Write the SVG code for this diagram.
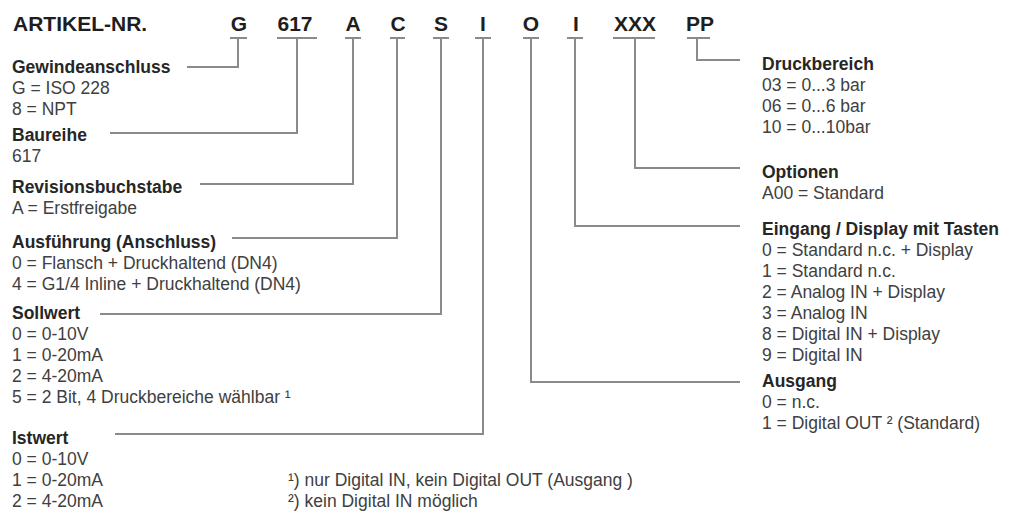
<svg xmlns="http://www.w3.org/2000/svg" width="1010" height="511" viewBox="0 0 1010 511">
<style>
text{font-family:"Liberation Sans",Arial,Helvetica,sans-serif;}
.hd{font-size:21px;font-weight:bold;fill:#1e1e1e;}
.code{font-size:21px;font-weight:bold;fill:#1e1e1e;text-anchor:middle;}
.t{font-size:17.5px;font-weight:bold;fill:#262626;}
.v{font-size:17.5px;fill:#404040;}
.ln{fill:none;stroke:#8a8a8a;stroke-width:2;}
</style>
<rect width="1010" height="511" fill="#ffffff"/>
<g id="header">
<text class="hd" x="13" y="31">ARTIKEL-NR.</text>
<text class="code" x="239" y="31">G</text>
<text class="code" x="295" y="31">617</text>
<text class="code" x="353" y="31">A</text>
<text class="code" x="398" y="31">C</text>
<text class="code" x="441" y="31">S</text>
<text class="code" x="483" y="31">I</text>
<text class="code" x="531" y="31">O</text>
<text class="code" x="576" y="31">I</text>
<text class="code" x="635" y="31">XXX</text>
<text class="code" x="700" y="31">PP</text>
</g>
<g id="connectors">
<path class="ln" d="M230 38H247M238 38V67H187"/>
<path class="ln" d="M277 38H317M297 38V133H110"/>
<path class="ln" d="M345 38H361M353 38V184H200"/>
<path class="ln" d="M390 38H405M397 38V238H232"/>
<path class="ln" d="M433 38H449M441 38V314H100"/>
<path class="ln" d="M475 38H491M483 38V434H115"/>
<path class="ln" d="M523 38H539M531 38V382H740"/>
<path class="ln" d="M567 38H583M575 38V226H740"/>
<path class="ln" d="M613 38H655M635 38V168H740"/>
<path class="ln" d="M687 38H710M697 38V60H740"/>
</g>
<g id="gewindeanschluss">
<text class="t" x="12" y="73">Gewindeanschluss</text>
<text class="v" x="12" y="94">G = ISO 228</text>
<text class="v" x="12" y="115">8 = NPT</text>
</g>
<g id="baureihe">
<text class="t" x="12" y="141">Baureihe</text>
<text class="v" x="12" y="162">617</text>
</g>
<g id="revisionsbuchstabe">
<text class="t" x="12" y="193">Revisionsbuchstabe</text>
<text class="v" x="12" y="214">A = Erstfreigabe</text>
</g>
<g id="ausfuehrung">
<text class="t" x="12" y="248">Ausführung (Anschluss)</text>
<text class="v" x="12" y="269">0 = Flansch + Druckhaltend (DN4)</text>
<text class="v" x="12" y="290">4 = G1/4 Inline + Druckhaltend (DN4)</text>
</g>
<g id="sollwert">
<text class="t" x="12" y="319">Sollwert</text>
<text class="v" x="12" y="340">0 = 0-10V</text>
<text class="v" x="12" y="361">1 = 0-20mA</text>
<text class="v" x="12" y="382">2 = 4-20mA</text>
<text class="v" x="12" y="403">5 = 2 Bit, 4 Druckbereiche wählbar ¹</text>
</g>
<g id="istwert">
<text class="t" x="12" y="444">Istwert</text>
<text class="v" x="12" y="465">0 = 0-10V</text>
<text class="v" x="12" y="486">1 = 0-20mA</text>
<text class="v" x="12" y="507">2 = 4-20mA</text>
</g>
<g id="druckbereich">
<text class="t" x="762" y="70">Druckbereich</text>
<text class="v" x="762" y="91">03 = 0...3 bar</text>
<text class="v" x="762" y="112">06 = 0...6 bar</text>
<text class="v" x="762" y="133">10 = 0...10bar</text>
</g>
<g id="optionen">
<text class="t" x="762" y="178">Optionen</text>
<text class="v" x="762" y="199">A00 = Standard</text>
</g>
<g id="eingang">
<text class="t" x="762" y="235">Eingang / Display mit Tasten</text>
<text class="v" x="762" y="256">0 = Standard n.c. + Display</text>
<text class="v" x="762" y="277">1 = Standard n.c.</text>
<text class="v" x="762" y="298">2 = Analog IN + Display</text>
<text class="v" x="762" y="319">3 = Analog IN</text>
<text class="v" x="762" y="340">8 = Digital IN + Display</text>
<text class="v" x="762" y="361">9 = Digital IN</text>
</g>
<g id="ausgang">
<text class="t" x="762" y="387">Ausgang</text>
<text class="v" x="762" y="408">0 = n.c.</text>
<text class="v" x="762" y="429">1 = Digital OUT ² (Standard)</text>
</g>
<g id="footnotes">
<text class="v" x="288" y="486">¹) nur Digital IN, kein Digital OUT (Ausgang )</text>
<text class="v" x="288" y="507">²) kein Digital IN möglich</text>
</g>
</svg>
